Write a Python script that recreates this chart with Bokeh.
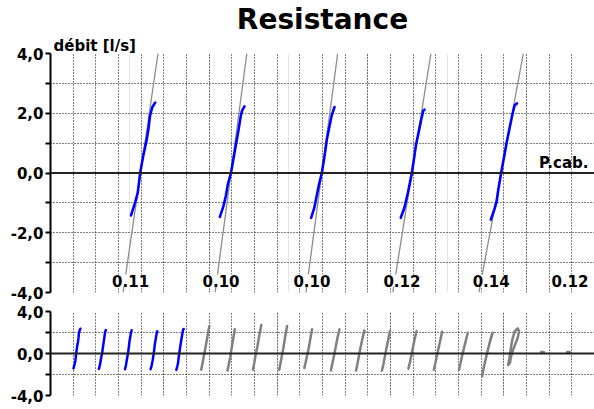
from bokeh.plotting import figure
from bokeh.models import FixedTicker, Grid, Span, Label, LabelSet, ColumnDataSource, Range1d, Title
from bokeh.layouts import column
from bokeh.core.properties import value
from bokeh.embed import file_html
from bokeh.resources import INLINE

FONT = "DejaVu Sans"

# ---------------- data ----------------
title_text = "Resistance"
y_title = "débit [l/s]"
x_title = "P.cab."

# y ticks
top_major = [-4, -2, 0, 2, 4]
top_major_labels = ["-4,0", "-2,0", "0,0", "2,0", "4,0"]
top_minor = [-3, -1, 1, 3]
bot_major = [-4, 0, 4]
bot_major_labels = ["-4,0", "0,0", "4,0"]
bot_minor = [-2, 2]

# selected cycles (blue) : centre pressure and fitted resistance
sel_centers = [2.27, 4.55, 6.84, 9.11, 11.36]
sel_resist = [0.11, 0.10, 0.10, 0.12, 0.14]
res_labels = ["0.11", "0.10", "0.10", "0.12", "0.14", "0.12"]

# blue cycles: pressure offset from centre, flow
c1_dp = [-0.24, -0.14, -0.07, -0.01, 0.07, 0.16, 0.20, 0.24, 0.30, 0.37]
c1_q = [-1.42, -1.00, -0.66, 0.00, 0.59, 1.15, 1.48, 1.93, 2.21, 2.36]
c2_dp = [-0.28, -0.19, -0.13, -0.08, 0.00, 0.06, 0.12, 0.18, 0.25, 0.28, 0.34]
c2_q = [-1.47, -1.11, -0.77, -0.38, 0.00, 0.46, 0.91, 1.36, 1.93, 2.09, 2.23]
c3_dp = [-0.27, -0.19, -0.13, -0.07, 0.00, 0.07, 0.13, 0.18, 0.25, 0.32]
c3_q = [-1.50, -1.17, -0.77, -0.38, 0.00, 0.58, 1.15, 1.48, 1.93, 2.21]
c4_dp = [-0.28, -0.19, -0.10, -0.04, 0.00, 0.04, 0.10, 0.17, 0.23, 0.29, 0.32]
c4_q = [-1.50, -1.17, -0.66, -0.27, 0.00, 0.35, 0.91, 1.36, 1.75, 2.09, 2.12]
c5_dp = [-0.26, -0.17, -0.11, -0.07, 0.00, 0.08, 0.14, 0.21, 0.28, 0.34, 0.40]
c5_q = [-1.56, -1.22, -0.94, -0.55, 0.00, 0.58, 1.02, 1.48, 1.93, 2.27, 2.33]

# other cycles (grey, overview only)
oth_centers = [13.62, 15.92, 18.18, 20.48, 22.74, 25.10, 27.30, 29.60,
               31.92, 34.20, 36.40, 38.60, 40.80, 43.40, 45.70]
g6_dp = [-0.32, -0.22, -0.08, 0.06, 0.22, 0.40]
g6_q = [-1.54, -1.00, -0.20, 0.60, 1.60, 2.62]
g7_dp = [-0.30, -0.20, -0.06, 0.06, 0.20, 0.34]
g7_q = [-1.63, -1.10, -0.30, 0.50, 1.40, 2.30]
g8_dp = [-0.32, -0.20, -0.08, 0.08, 0.24, 0.42]
g8_q = [-1.54, -0.90, -0.10, 0.70, 1.70, 2.72]
g9_dp = [-0.30, -0.20, -0.06, 0.08, 0.22, 0.40]
g9_q = [-1.54, -1.00, -0.20, 0.60, 1.60, 2.62]
g10_dp = [-0.34, -0.22, -0.08, 0.06, 0.20, 0.34]
g10_q = [-1.38, -0.80, -0.10, 0.60, 1.50, 2.30]
g11_dp = [-0.36, -0.24, -0.08, 0.06, 0.22, 0.40]
g11_q = [-1.63, -1.00, -0.20, 0.60, 1.50, 2.30]
g12_dp = [-0.34, -0.22, -0.08, 0.06, 0.22, 0.40]
g12_q = [-1.63, -1.00, -0.20, 0.60, 1.40, 2.20]
g13_dp = [-0.36, -0.24, -0.10, 0.04, 0.20, 0.36]
g13_q = [-1.63, -1.10, -0.30, 0.50, 1.30, 2.14]
g14_dp = [-0.34, -0.22, -0.08, 0.06, 0.22, 0.38]
g14_q = [-1.44, -0.90, -0.20, 0.60, 1.40, 2.14]
g15_dp = [-0.38, -0.26, -0.10, 0.04, 0.20, 0.36]
g15_q = [-1.54, -1.00, -0.20, 0.50, 1.30, 2.08]
g16_dp = [-0.36, -0.24, -0.08, 0.08, 0.24, 0.42]
g16_q = [-1.54, -1.00, -0.20, 0.50, 1.20, 1.98]
g17_dp = [-0.52, -0.38, -0.20, 0.00, 0.20, 0.42, 0.36, 0.14, -0.06, -0.26, -0.44]
g17_q = [-2.18, -1.40, -0.50, 0.40, 1.20, 1.98, 1.90, 1.00, 0.10, -0.80, -1.70]
g18_dp = [-0.42, -0.30, -0.18, -0.04, 0.16, 0.42, 0.55, 0.40, 0.14, -0.06, -0.18, -0.26, -0.42]
g18_q = [-1.10, -0.40, 0.50, 1.40, 2.10, 2.40, 2.10, 1.40, 0.70, 0.10, -0.40, -0.90, -1.10]
g19_dp = [-0.12, 0.12]
g19_q = [0.15, 0.15]
g20_dp = [-0.12, 0.12]
g20_q = [0.15, 0.15]

sel_dp = [c1_dp, c2_dp, c3_dp, c4_dp, c5_dp]
sel_q = [c1_q, c2_q, c3_q, c4_q, c5_q]
oth_dp = [g6_dp, g7_dp, g8_dp, g9_dp, g10_dp, g11_dp, g12_dp, g13_dp, g14_dp,
          g15_dp, g16_dp, g17_dp, g18_dp, g19_dp, g20_dp]
oth_q = [g6_q, g7_q, g8_q, g9_q, g10_q, g11_q, g12_q, g13_q, g14_q,
         g15_q, g16_q, g17_q, g18_q, g19_q, g20_q]

# ---------------- derived ----------------
TOP_XMAX = 48 / 3.5
BOT_XMAX = 48.0
sel_xs = [[c + d for d in dp] for c, dp in zip(sel_centers, sel_dp)]
oth_xs = [[c + d for d in dp] for c, dp in zip(oth_centers, oth_dp)]
fit_xs = [[c - 4 * r, c + 4 * r] for c, r in zip(sel_centers, sel_resist)]
fit_ys = [[-4, 4] for _ in sel_centers]
lab_centers = sel_centers + oth_centers[:1]
lab_x = [min(c - 0.25, TOP_XMAX - 0.62) for c in lab_centers]

BLUE = "#0000ff"
GREY = "#808080"


def style_yaxis(p, major, labels, minor):
    ax = p.yaxis[0]
    ax.ticker = FixedTicker(ticks=major, minor_ticks=minor)
    ax.major_label_overrides = {t: l for t, l in zip(major, labels)}
    ax.axis_line_color = "black"
    ax.axis_line_width = 2
    ax.major_tick_line_width = 2
    ax.minor_tick_line_width = 2
    ax.major_tick_in = 0
    ax.major_tick_out = 5
    ax.minor_tick_in = 0
    ax.minor_tick_out = 5
    ax.major_label_text_font = FONT
    ax.major_label_text_font_style = "bold"
    ax.major_label_text_font_size = "15px"
    ax.major_label_text_color = "black"
    ax.major_label_standoff = 2


def base_fig(height, xmax, mtop, mbot):
    p = figure(width=594, height=height, x_range=Range1d(0, xmax), y_range=Range1d(-4, 4),
               x_axis_location=None, output_backend="svg", toolbar_location=None,
               min_border_left=50, min_border_right=0, min_border_top=mtop,
               min_border_bottom=mbot, title=None)
    p.outline_line_color = None
    return p


def add_grids(p, xstep, ncell, yticks):
    gx = Grid(dimension=0, ticker=FixedTicker(ticks=[i * xstep for i in range(1, ncell)]),
              grid_line_color="black", grid_line_dash="1 2", grid_line_width=1)
    p.add_layout(gx)
    p.ygrid.ticker = FixedTicker(ticks=yticks)
    p.ygrid.grid_line_color = "black"
    p.ygrid.grid_line_dash = "1 2"
    p.ygrid.grid_line_width = 1
    p.add_layout(Span(location=0, dimension="width", line_color="#222222", line_width=2))


# ---------------- top chart ----------------
p1 = base_fig(302, TOP_XMAX, 0, 10)
style_yaxis(p1, top_major, top_major_labels, top_minor)
add_grids(p1, TOP_XMAX / 24, 24, list(range(-4, 5)))

p1.add_layout(Title(text=y_title, align="left", offset=3, standoff=-2,
                    text_font=FONT, text_font_style="bold", text_font_size="15px",
                    text_color="black"), "above")
p1.add_layout(Title(text=title_text, align="center", standoff=0,
                    text_font=FONT, text_font_style="bold", text_font_size="28px",
                    text_color="black"), "above")

p1.multi_line(xs=fit_xs, ys=fit_ys, line_color="#8c8c8c", line_width=1.3)
p1.multi_line(xs=sel_xs, ys=sel_q, line_color=BLUE, line_width=2.6,
              line_join="round", line_cap="round")

lab_src = ColumnDataSource(dict(x=lab_x, y=[-3.6] * len(lab_x), t=res_labels))
p1.add_layout(LabelSet(x="x", y="y", text="t", source=lab_src, text_align="center",
                       text_baseline="middle", text_font=value(FONT),
                       text_font_style=value("bold"),
                       text_font_size=value("15px"), text_color="black",
                       background_fill_color="white"))

p1.add_layout(Label(x=TOP_XMAX, y=0, x_offset=-6, y_offset=10, text=x_title,
                    text_align="right", text_baseline="alphabetic", text_font=FONT,
                    text_font_style="bold", text_font_size="15px", text_color="black"))

# ---------------- bottom chart ----------------
p2 = base_fig(103, BOT_XMAX, 9, 10)
style_yaxis(p2, bot_major, bot_major_labels, bot_minor)
add_grids(p2, BOT_XMAX / 24, 24, [-4, -2, 0, 2, 4])

p2.multi_line(xs=oth_xs, ys=oth_q, line_color=GREY, line_width=2.5,
              line_join="round", line_cap="round")
p2.multi_line(xs=sel_xs, ys=sel_q, line_color=BLUE, line_width=2.5,
              line_join="round", line_cap="round")

layout = column(p1, p2, spacing=0)
open("out.html", "w").write(file_html(layout, INLINE))
